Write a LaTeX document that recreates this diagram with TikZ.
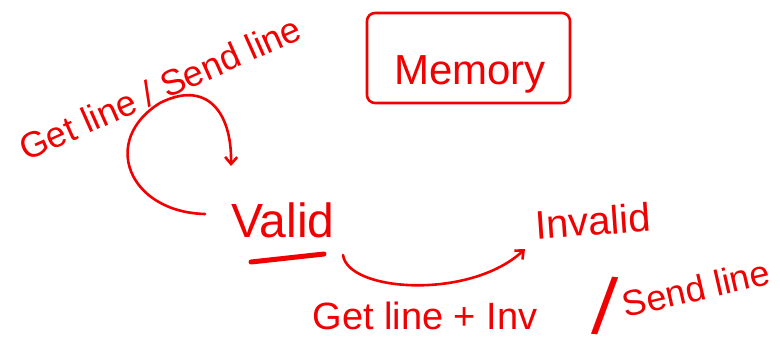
\documentclass[tikz,border=0pt]{standalone}
\usepackage{fontspec}
\setmainfont{Liberation Sans}
\usetikzlibrary{arrows.meta}
\definecolor{ink}{HTML}{F00000}
\tikzset{
  ink/.style={draw=ink, line width=2.6pt, line cap=round, line join=round},
  lbl/.style={text=ink, inner sep=0pt, font=#1},
  tip/.style={-{Straight Barb[length=7pt,width=12pt,line width=2.6pt]}}
}
\newcommand{\fsz}[1]{\fontsize{#1}{#1}\selectfont}
\begin{document}
\begin{tikzpicture}[x=1pt,y=-1pt]
\useasboundingbox (0,0) rectangle (780,351);
% Memory box
\draw[ink, rounded corners=8pt] (367,13) rectangle (570,103);
\node[lbl=\fsz{42}] (memory) at (470,74) {Memory};
% Valid
\node[lbl=\fsz{48}] (valid) at (283,220) {Valid};
\draw[draw=ink, line width=5pt, line cap=round] (251,262) -- (324,254);
% Invalid
\node[lbl=\fsz{40}, rotate=4] (invalid) at (593,221) {Invalid};
% top label
\node[lbl=\fsz{36}, rotate=24] (toplbl) at (160,88) {Get line / Send line};
% bottom label
\node[lbl=\fsz{38}] (botA) at (425,316) {Get line + Inv};
\node[lbl=\fsz{80}, rotate=-5] (slash) at (605,306) {/};
\node[lbl=\fsz{36}, rotate=13] (botB) at (696,288) {Send line};
% self loop
\coordinate (loopS) at (205,214);
\coordinate (loopE) at (231,166);
\draw[ink, tip] (loopS) .. controls (128,212) and (100,140) .. (160,103)
  .. controls (205,80) and (232,110) .. (loopE);
% valid -> invalid
\coordinate (vS) at (343,255);
\coordinate (iE) at (525,249);
\draw[ink, tip] (vS) .. controls (348,292) and (470,300) .. (iE);
\end{tikzpicture}
\end{document}
